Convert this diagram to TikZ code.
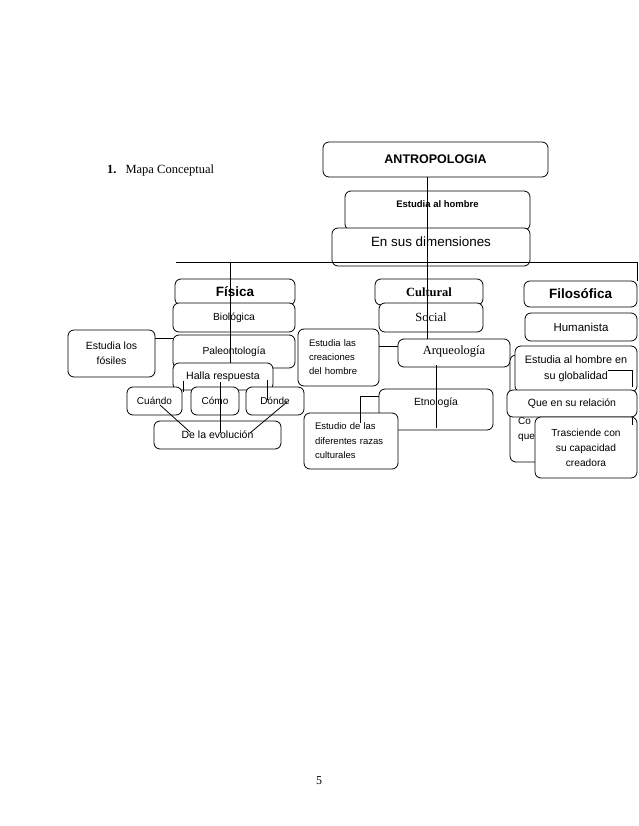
\documentclass[tikz,border=0pt]{standalone}
\usepackage{fontspec}
\setmainfont{Liberation Sans}
\newfontfamily\tnr{Liberation Serif}
\newcommand\fz[2]{\fontsize{#1}{#2}\selectfont}
\begin{document}
\begin{tikzpicture}[x=1pt,y=-1pt,
  bx/.style={draw, fill=white, rounded corners=6pt, inner sep=0pt, line width=0.8pt, align=center},
  ln/.style={line width=0.8pt},
  lft/.style={align=left, inner xsep=11pt}]
\useasboundingbox (0,0) rectangle (638,826);

% title and page number
\node[font=\tnr\fz{12.5}{15}, anchor=base west, inner sep=0pt] (title) at (107,174) {\textbf{1.}\hspace{9pt}Mapa Conceptual};
\node[font=\tnr\fz{12}{14}, inner sep=0pt] (pg) at (319,781) {5};

% top
\node[bx, minimum width=225pt, minimum height=35pt, font=\fz{12.5}{15}\bfseries] (antro) at (435.5,159.5) {ANTROPOLOGIA};
\node[bx, minimum width=185pt, minimum height=39pt, font=\fz{9.5}{12}\bfseries, text depth=13pt] (estudia) at (437.5,210.5) {Estudia al hombre};
\node[bx, minimum width=198pt, minimum height=38pt, font=\fz{13.4}{16}, text depth=11pt] (dimens) at (431,247) {En sus dimensiones};
\coordinate (hl) at (176,262);
\coordinate (hr) at (637,262);
\coordinate (hre) at (637,281);
\draw[ln] (hl) -- (hr) -- (hre);

% Fisica column
\node[bx, minimum width=120pt, minimum height=26pt, font=\fz{13.5}{16}\bfseries] (fisica) at (235,292) {Física};
\node[bx, minimum width=122pt, minimum height=29pt, font=\fz{10.3}{12}] (bio) at (234,317.5) {Biológica};
\node[bx, minimum width=122pt, minimum height=33pt, font=\fz{10.3}{12}] (paleo) at (234,351.5) {Paleontología};
\coordinate (fisTop) at (230,262);
\coordinate (paleoIn) at (230,363);
\draw[ln] (fisTop) -- (paleoIn);
\node[bx, minimum width=87pt, minimum height=47pt, font=\fz{10.5}{15}] (fosiles) at (111.5,353.5) {Estudia los\\fósiles};
\draw[ln] (fosiles.east |- 0,338) -- (paleo.west |- 0,338);
\node[bx, minimum width=100pt, minimum height=27pt, font=\fz{10.6}{12}] (halla) at (223,376.5) {Halla respuesta};
\node[bx, minimum width=55pt, minimum height=28pt, font=\fz{10}{12}] (cuando) at (154.5,401) {Cuándo};
\node[bx, minimum width=48pt, minimum height=28pt, font=\fz{10}{12}] (como) at (215,401) {Cómo};
\node[bx, minimum width=58pt, minimum height=28pt, font=\fz{10}{12}] (donde) at (275,401) {Dónde};
\node[bx, minimum width=127pt, minimum height=28pt, font=\fz{10.5}{12}] (evol) at (217.5,435) {De la evolución};
\coordinate (h1) at (183,381);
\coordinate (h1e) at (183,392);
\coordinate (h2) at (220,382);
\coordinate (h2e) at (220,433);
\coordinate (h3) at (267,380);
\coordinate (h3e) at (267,400);
\coordinate (c1) at (160,405);
\coordinate (c1e) at (190,432);
\coordinate (d1) at (287,402);
\coordinate (d1e) at (250,433);
\draw[ln] (h1) -- (h1e);
\draw[ln] (h2) -- (h2e);
\draw[ln] (h3) -- (h3e);
\draw[ln] (c1) -- (c1e);
\draw[ln] (d1) -- (d1e);

% Cultural column
\node[bx, minimum width=108pt, minimum height=26pt, font=\tnr\fz{12.5}{15}\bfseries] (cultural) at (429,292) {Cultural};
\node[bx, minimum width=104pt, minimum height=29pt, font=\tnr\fz{12.5}{15}] (social) at (431,317.5) {Social};
\coordinate (trTop) at (427,177);
\coordinate (trEnd) at (427,339);
\draw[ln] (trTop) -- (trEnd);
\node[bx, lft, minimum width=81pt, minimum height=57pt, text width=59pt, font=\fz{9.5}{14}] (creac) at (338.5,357.5) {Estudia las\\creaciones\\del hombre};
\node[bx, minimum width=112pt, minimum height=28pt, font=\tnr\fz{12.5}{15}, text depth=6pt] (arqueo) at (454,353) {Arqueología};
\draw[ln] (creac.east |- 0,346) -- (arqueo.west |- 0,346);
\node[bx, minimum width=114pt, minimum height=41pt, font=\fz{10.4}{12}, text depth=15pt] (etno) at (436,409.5) {Etnología};
\node[bx, lft, minimum width=94pt, minimum height=56pt, text width=72pt, font=\fz{9.5}{14.5}] (razas) at (351,441) {Estudio de las\\diferentes razas\\culturales};
\coordinate (a1) at (436,365);
\coordinate (a1e) at (436,428);
\draw[ln] (a1) -- (a1e);
\coordinate (e1) at (360,396);
\coordinate (e1e) at (360,423);
\draw[ln] (etno.west |- e1) -- (e1) -- (e1e);

% Filosofica column
\node[bx, minimum width=113pt, minimum height=26pt, font=\fz{13.5}{16}\bfseries] (filos) at (580.5,294) {Filosófica};
\node[bx, minimum width=112pt, minimum height=28pt, font=\fz{11.5}{14}] (human) at (581,327) {Humanista};
\node[bx, minimum width=90pt, minimum height=107pt] (hid) at (555,408.5) {};
\node[font=\fz{10}{15}, align=left, anchor=north west, inner sep=0pt] (hidtxt) at (518,417) {Co\\que};
\node[bx, minimum width=122pt, minimum height=46pt, font=\fz{10.8}{16}] (global) at (576,369) {Estudia al hombre en\\su globalidad};
\coordinate (g1) at (608,370);
\coordinate (g2) at (632,370);
\coordinate (g3) at (632,387);
\draw[ln] (g1) -- (g2) -- (g3);
\node[bx, minimum width=130pt, minimum height=27pt, font=\fz{10.5}{12}] (relac) at (572,403.5) {Que en su relación};
\node[bx, minimum width=102pt, minimum height=61pt, font=\fz{10.2}{15}] (trasc) at (586,447.5) {Trasciende con\\su capacidad\\creadora};
\coordinate (t1) at (632,418);
\coordinate (t1e) at (632,425);
\draw[ln] (t1) -- (t1e);
\end{tikzpicture}
\end{document}
